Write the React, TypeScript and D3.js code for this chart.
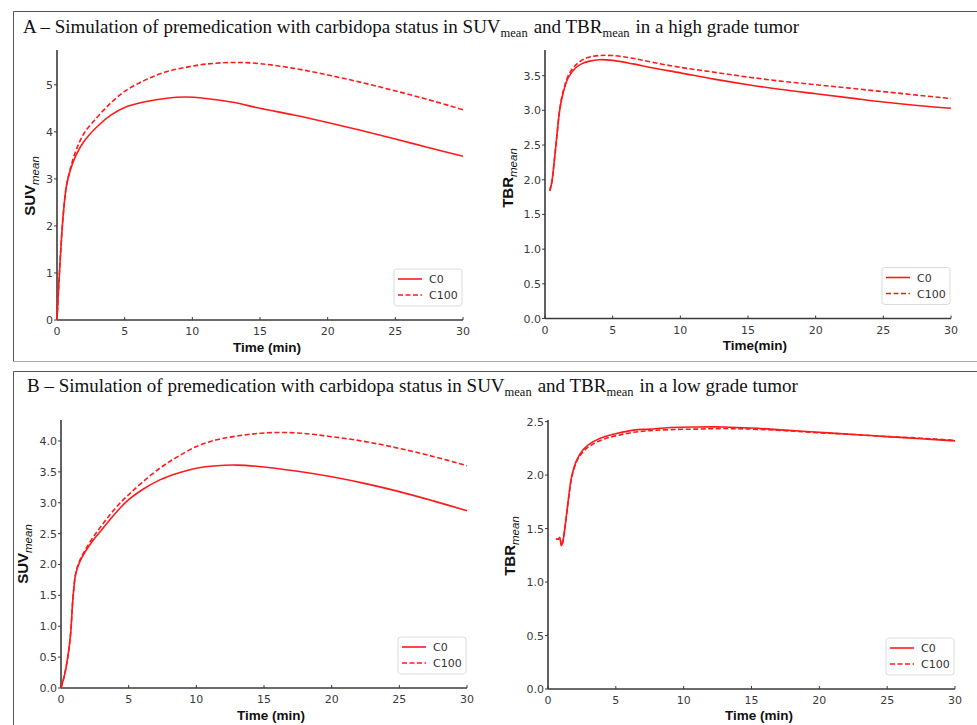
import React from "react";
import * as d3 from "d3";

// ---------- data ----------
const timeTicks = [0, 5, 10, 15, 20, 25, 30];

// A: high grade tumor, SUVmean
const aSuvTime = [0, 0.2, 0.45, 0.7, 1.0, 1.4, 2.0, 3.0, 4.0, 5.0, 6.5, 8.0, 9.5, 11, 13, 15, 17.5, 20, 22.5, 25, 27.5, 30];
const aSuvC0 = [0, 1.1, 2.2, 2.85, 3.2, 3.5, 3.8, 4.12, 4.36, 4.52, 4.64, 4.71, 4.74, 4.71, 4.63, 4.5, 4.36, 4.2, 4.03, 3.85, 3.66, 3.48];
const aSuvC100 = [0, 1.1, 2.2, 2.86, 3.23, 3.6, 3.97, 4.32, 4.62, 4.86, 5.1, 5.27, 5.37, 5.44, 5.475, 5.45, 5.35, 5.21, 5.05, 4.87, 4.68, 4.47];
const aSuvTicks = [0, 1, 2, 3, 4, 5];

// A: high grade tumor, TBRmean
const aTbrTime = [0.35, 0.5, 0.65, 0.85, 1.1, 1.35, 1.72, 2.2, 2.7, 3.3, 4.0, 5, 6.5, 8, 10, 12.5, 15, 17.5, 20, 22.5, 25, 27.5, 30];
const aTbrC0 = [1.84, 1.96, 2.2, 2.58, 3.02, 3.26, 3.47, 3.6, 3.67, 3.71, 3.73, 3.72, 3.67, 3.61, 3.54, 3.45, 3.37, 3.3, 3.24, 3.18, 3.12, 3.07, 3.03];
const aTbrC100 = [1.84, 1.96, 2.2, 2.58, 3.03, 3.28, 3.5, 3.64, 3.72, 3.77, 3.79, 3.79, 3.75, 3.69, 3.62, 3.55, 3.48, 3.42, 3.37, 3.32, 3.27, 3.22, 3.17];
const aTbrTicks = [0, 0.5, 1.0, 1.5, 2.0, 2.5, 3.0, 3.5];

// B: low grade tumor, SUVmean
const bSuvTime = [0, 0.25, 0.5, 0.7, 0.9, 1.1, 1.4, 1.8, 2.4, 3.0, 3.6, 4.3, 5.0, 6, 7.3, 8.5, 10, 11.5, 13, 15, 17.5, 20, 22.5, 25, 27.5, 30];
const bSuvC0 = [0, 0.2, 0.5, 0.85, 1.5, 1.86, 2.05, 2.21, 2.4, 2.56, 2.72, 2.9, 3.05, 3.21, 3.37, 3.47, 3.56, 3.6, 3.61, 3.58, 3.51, 3.42, 3.31, 3.18, 3.03, 2.87];
const bSuvC100 = [0, 0.2, 0.5, 0.85, 1.5, 1.87, 2.07, 2.24, 2.45, 2.63, 2.8, 2.98, 3.13, 3.33, 3.56, 3.73, 3.91, 4.02, 4.08, 4.13, 4.13, 4.07, 3.99, 3.88, 3.75, 3.6];
const bSuvTicks = [0, 0.5, 1.0, 1.5, 2.0, 2.5, 3.0, 3.5, 4.0];

// B: low grade tumor, TBRmean
const bTbrTime = [0.6, 0.78, 0.86, 1.0, 1.1, 1.26, 1.5, 1.75, 2.12, 2.6, 3.3, 4.2, 5.1, 6.3, 7.5, 9, 11, 13, 15, 17.5, 20, 22.5, 25, 27.5, 30];
const bTbrC0 = [1.405, 1.4, 1.415, 1.34, 1.38, 1.52, 1.77, 1.99, 2.14, 2.24, 2.31, 2.36, 2.39, 2.42, 2.43, 2.445, 2.45, 2.45, 2.44, 2.42, 2.4, 2.38, 2.36, 2.34, 2.32];
const bTbrC100 = [1.405, 1.4, 1.415, 1.34, 1.38, 1.52, 1.76, 1.98, 2.13, 2.22, 2.29, 2.34, 2.37, 2.4, 2.415, 2.425, 2.43, 2.435, 2.43, 2.415, 2.395, 2.38, 2.36, 2.345, 2.325];
const bTbrTicks = [0, 0.5, 1.0, 1.5, 2.0, 2.5];

const seriesNames = ["C0", "C100"];

// ---------- styles ----------
const RED = "#ff1a1a";
const AXIS = "#3a3a3a";
const TICKTXT = "#3a3a3a";
const TICKFONT = "DejaVu Sans, sans-serif";
const LABELFONT = "Liberation Sans, Arial, sans-serif";

type PanelProps = {
  x0: number; x1: number; yTop: number; yBottom: number;
  yMax: number; yTicks: number[]; yFmt: (v: number) => string;
  time: number[]; c0: number[]; c100: number[];
  yName: string; yLabelX: number; yLabelY: number;
  xLabel: string; xLabelX: number; xLabelY: number;
};

function Panel(p: PanelProps) {
  const x = d3.scaleLinear().domain([0, 30]).range([p.x0, p.x1]);
  const y = d3.scaleLinear().domain([0, p.yMax]).range([p.yBottom, p.yTop]);
  const line = d3
    .line<[number, number]>()
    .x((d) => x(d[0]))
    .y((d) => y(d[1]))
    .curve(d3.curveCatmullRom.alpha(0.5));
  const d0 = line(p.time.map((t, i) => [t, p.c0[i]] as [number, number])) || "";
  const d1 = line(p.time.map((t, i) => [t, p.c100[i]] as [number, number])) || "";
  const lw = 68, lh = 37;
  const lx = p.x1 - lw - 1;
  const ly = p.yBottom - 14 - lh;
  return (
    <g>
      {/* axes */}
      <line x1={p.x0} x2={p.x0} y1={p.yTop} y2={p.yBottom} stroke={AXIS} strokeWidth={1.6} />
      <line x1={p.x0} x2={p.x1} y1={p.yBottom} y2={p.yBottom} stroke={AXIS} strokeWidth={1.6} />
      {timeTicks.map((t) => (
        <g key={"xt" + t}>
          <line x1={x(t)} x2={x(t)} y1={p.yBottom} y2={p.yBottom - 3} stroke={AXIS} strokeWidth={1} />
          <text x={x(t)} y={p.yBottom + 15} textAnchor="middle" fontFamily={TICKFONT} fontSize={11} fill={TICKTXT}>
            {t}
          </text>
        </g>
      ))}
      {p.yTicks.map((v) => (
        <g key={"yt" + v}>
          <line x1={p.x0 - 3} x2={p.x0} y1={y(v)} y2={y(v)} stroke={AXIS} strokeWidth={1} />
          <text x={p.x0 - 4} y={y(v) + 4} textAnchor="end" fontFamily={TICKFONT} fontSize={11} fill={TICKTXT}>
            {p.yFmt(v)}
          </text>
        </g>
      ))}
      {/* lines */}
      <path d={d0} fill="none" stroke={RED} strokeWidth={1.6} />
      <path d={d1} fill="none" stroke={RED} strokeWidth={1.6} strokeDasharray="5 2.5" />
      {/* axis labels */}
      <text x={p.xLabelX} y={p.xLabelY} textAnchor="middle" fontFamily={LABELFONT} fontWeight="bold" fontSize={13.5} fill="#111">
        {p.xLabel}
      </text>
      <text
        transform={`translate(${p.yLabelX},${p.yLabelY}) rotate(-90)`}
        textAnchor="middle"
        fontFamily={LABELFONT}
        fill="#111"
      >
        <tspan fontWeight="bold" fontSize={15}>{p.yName}</tspan>
        <tspan fontStyle="italic" fontSize={11.5} dy={4}>mean</tspan>
      </text>
      {/* legend */}
      <rect x={lx} y={ly} width={lw} height={lh} rx={3} fill="white" fillOpacity={0.85} stroke="#dcdcdc" strokeWidth={1} />
      {seriesNames.map((n, i) => (
        <g key={n}>
          <line
            x1={lx + 4}
            x2={lx + 28}
            y1={ly + 10 + i * 16}
            y2={ly + 10 + i * 16}
            stroke={RED}
            strokeWidth={1.6}
            strokeDasharray={i === 1 ? "5 2.5" : undefined}
          />
          <text x={lx + 35} y={ly + 14 + i * 16} fontFamily={TICKFONT} fontSize={11} fill="#333">
            {n}
          </text>
        </g>
      ))}
    </g>
  );
}

function Title({ x, y, letter, grade }: { x: number; y: number; letter: string; grade: string }) {
  return (
    <text x={x} y={y} fontFamily="Liberation Serif, Times New Roman, serif" fontSize={19} fill="#111">
      <tspan>{letter} – Simulation of premedication with carbidopa status in SUV</tspan>
      <tspan fontSize={12.5} dy={4}>mean</tspan>
      <tspan dy={-4} dx={6}>and TBR</tspan>
      <tspan fontSize={12.5} dy={4}>mean</tspan>
      <tspan dy={-4} dx={6}>{`in a ${grade} grade tumor`}</tspan>
    </text>
  );
}

export default function App() {
  const f0 = (v: number) => d3.format("d")(v);
  const f1 = (v: number) => d3.format(".1f")(v);
  return (
    <svg width={977} height={725} style={{ position: "absolute", left: 0, top: 0, background: "white" }}>
      <rect x={0} y={0} width={977} height={725} fill="white" />
      {/* frames */}
      <path d="M13.5,361.5 V11.5 H977" fill="none" stroke="#555" strokeWidth={1} />
      <path d="M13.5,361.5 H977" fill="none" stroke="#aaa" strokeWidth={1} />
      <path d="M13.5,725 V371.5 H977" fill="none" stroke="#555" strokeWidth={1} />

      <Title x={23} y={33} letter="A" grade="high" />
      <Title x={27} y={392} letter="B" grade="low" />

      <Panel
        x0={57} x1={463} yTop={50} yBottom={320} yMax={5.74} yTicks={aSuvTicks} yFmt={f0}
        time={aSuvTime} c0={aSuvC0} c100={aSuvC100}
        yName="SUV" yLabelX={35} yLabelY={186}
        xLabel="Time (min)" xLabelX={267} xLabelY={352}
      />
      <Panel
        x0={545} x1={951} yTop={50} yBottom={318.5} yMax={3.87} yTicks={aTbrTicks} yFmt={f1}
        time={aTbrTime} c0={aTbrC0} c100={aTbrC100}
        yName="TBR" yLabelX={513} yLabelY={178}
        xLabel="Time(min)" xLabelX={755} xLabelY={350}
      />
      <Panel
        x0={61} x1={467} yTop={420} yBottom={688} yMax={4.34} yTicks={bSuvTicks} yFmt={f1}
        time={bSuvTime} c0={bSuvC0} c100={bSuvC100}
        yName="SUV" yLabelX={28} yLabelY={554}
        xLabel="Time (min)" xLabelX={271} xLabelY={720}
      />
      <Panel
        x0={548} x1={955} yTop={420} yBottom={689} yMax={2.515} yTicks={bTbrTicks} yFmt={f1}
        time={bTbrTime} c0={bTbrC0} c100={bTbrC100}
        yName="TBR" yLabelX={515} yLabelY={546}
        xLabel="Time (min)" xLabelX={759} xLabelY={720}
      />
    </svg>
  );
}
